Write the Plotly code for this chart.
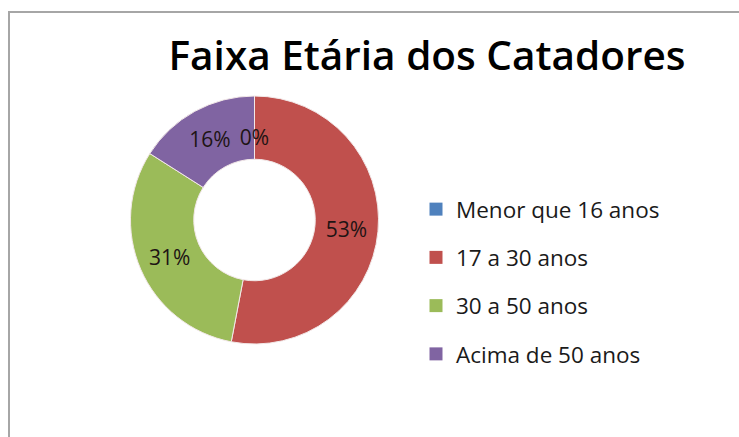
import plotly.graph_objects as go

categories = ["Menor que 16 anos", "17 a 30 anos", "30 a 50 anos", "Acima de 50 anos"]
values = [0, 53, 31, 16]
colors = ["#4F81BD", "#C0504D", "#9BBB59", "#8064A2"]
title_text = "Faixa Etária dos Catadores"

W, H = 739, 437
FONT = "Open Sans, Lato, sans-serif"
fig = go.Figure()

# Empty slices are drawn first and their label ends up under the later slices,
# so draw the series starting with the first non-empty slice (same geometry,
# since a zero-width slice at 360° sits at 12 o'clock too).
start = next(i for i, v in enumerate(values) if v > 0)
order = list(range(start, len(values))) + list(range(0, start))
pie_labels = [categories[i] for i in order]
pie_values = [values[i] for i in order]
pie_colors = [colors[i] for i in order]
# empty slices get their label at the outer rim; push it down into the ring with blank lines
templates = [(" <br> <br> <br>%{percent:.0%}" if v == 0 else "%{percent:.0%}") for v in pie_values]

cx, cy, r = 254.5, 220, 124
fig.add_trace(go.Pie(
    labels=pie_labels, values=pie_values, sort=False, direction="clockwise", rotation=0,
    hole=0.49,
    marker=dict(colors=pie_colors, line=dict(color="#F2E8E8", width=1)),
    texttemplate=templates,
    textposition="inside", insidetextorientation="horizontal",
    textfont=dict(family=FONT, size=21, color="#1E1414"),
    domain=dict(x=[(cx - r) / W, (cx + r) / W], y=[1 - (cy + r) / H, 1 - (cy - r) / H]),
    showlegend=False, hoverinfo="label+percent",
))

# legend entries (one group each so spacing can match the reference)
for name, col in zip(categories, colors):
    fig.add_trace(go.Scatter(
        x=[None], y=[None], mode="markers", name=name, legendgroup=name,
        marker=dict(symbol="square", size=13, color=col),
        showlegend=True,
    ))

fig.update_layout(
    width=W, height=H,
    margin=dict(l=0, r=0, t=0, b=0),
    paper_bgcolor="white", plot_bgcolor="white",
    title=dict(text=title_text, x=427 / W, xanchor="center", y=1 - 56 / H, yanchor="middle",
               font=dict(family=FONT, size=40.5, color="#000000", weight=600)),
    uniformtext=dict(minsize=21, mode="show"),
    xaxis=dict(visible=False), yaxis=dict(visible=False),
    legend=dict(x=416 / W, y=1 - 188 / H, xanchor="left", yanchor="top",
                font=dict(family=FONT, size=22.5, color="#1A1A1A"),
                tracegroupgap=16, bgcolor="rgba(0,0,0,0)"),
    shapes=[dict(type="rect", xref="paper", yref="paper",
                 x0=9 / W, x1=1.2, y0=-0.2, y1=1 - 12 / H,
                 line=dict(color="#A6A6A6", width=2), layer="above")],
)

fig.write_html("out.html", config={"displayModeBar": False},
               post_script="document.body.style.margin='0';")
